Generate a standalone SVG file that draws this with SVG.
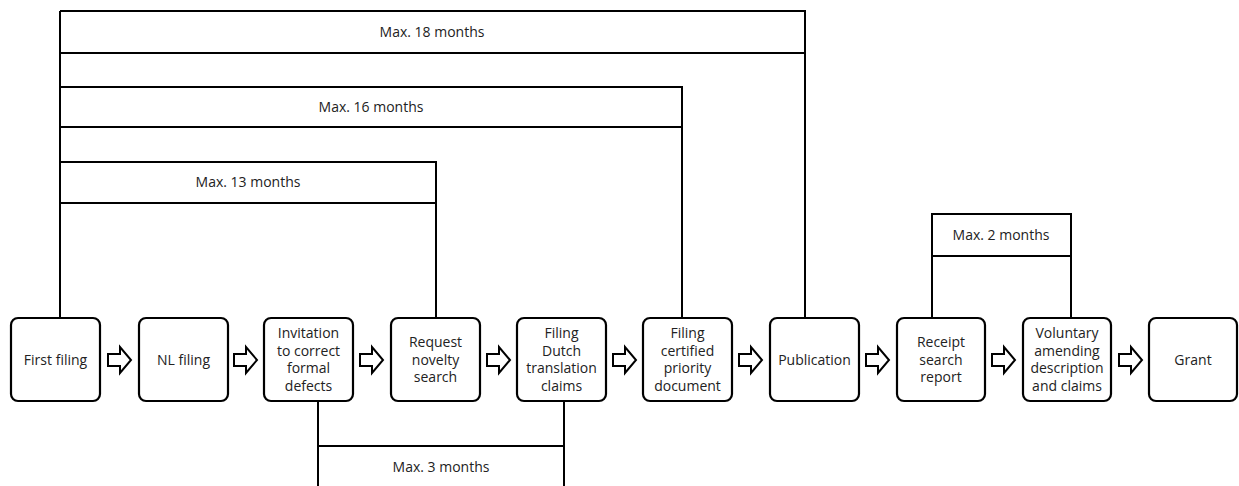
<svg xmlns="http://www.w3.org/2000/svg" width="1239" height="486" viewBox="0 0 1239 486">
<style>
.box{fill:#fff;stroke:#000;stroke-width:2.2}
.ln{fill:none;stroke:#000;stroke-width:2}
.t{font-family:"Open Sans","Noto Sans",sans-serif;font-size:14px;fill:#222;text-anchor:middle}
.arr{fill:#fff;stroke:#000;stroke-width:2;stroke-linejoin:miter}
</style>
<defs>
<path id="arrow" class="arr" d="M0,-6 H12 V-13 L23,0 L12,13 V6 H0 Z"/>
</defs>
<rect width="1239" height="486" fill="#fff"/>
<g id="connectors">
<path class="ln" d="M60,11 H805 V317 M60,53 H805 M60,11 V317"/>
<path class="ln" d="M60,87 H682 V317 M60,127 H682"/>
<path class="ln" d="M60,162 H436 V317 M60,203 H436"/>
<path class="ln" d="M932,317 V214 H1071 V317 M932,256 H1071"/>
<path class="ln" d="M318,402 V486 M564,402 V486 M318,446 H564"/>
<use href="#arrow" x="108" y="360"/>
<use href="#arrow" x="234" y="360"/>
<use href="#arrow" x="360" y="360"/>
<use href="#arrow" x="487" y="360"/>
<use href="#arrow" x="613" y="360"/>
<use href="#arrow" x="739" y="360"/>
<use href="#arrow" x="866" y="360"/>
<use href="#arrow" x="992" y="360"/>
<use href="#arrow" x="1119" y="360"/>
</g>
<g id="labels">
<text class="t" x="432" y="37">Max. 18 months</text>
<text class="t" x="371" y="112">Max. 16 months</text>
<text class="t" x="248" y="187">Max. 13 months</text>
<text class="t" x="1001" y="240">Max. 2 months</text>
<text class="t" x="441" y="472">Max. 3 months</text>
</g>
<g id="n1"><rect class="box" x="11" y="318" width="89" height="83" rx="7"/><text class="t" x="55.5" y="365">First filing</text></g>
<g id="n2"><rect class="box" x="139" y="318" width="89" height="83" rx="7"/><text class="t" x="183.5" y="365">NL filing</text></g>
<g id="n3"><rect class="box" x="264" y="318" width="89" height="83" rx="7"/><text class="t" x="308.5" y="338">Invitation</text><text class="t" x="308.5" y="355.5">to correct</text><text class="t" x="308.5" y="373">formal</text><text class="t" x="308.5" y="390.5">defects</text></g>
<g id="n4"><rect class="box" x="391" y="318" width="89" height="83" rx="7"/><text class="t" x="435.5" y="347">Request</text><text class="t" x="435.5" y="364.5">novelty</text><text class="t" x="435.5" y="382">search</text></g>
<g id="n5"><rect class="box" x="517" y="318" width="89" height="83" rx="7"/><text class="t" x="561.5" y="338">Filing</text><text class="t" x="561.5" y="355.5">Dutch</text><text class="t" x="561.5" y="373">translation</text><text class="t" x="561.5" y="390.5">claims</text></g>
<g id="n6"><rect class="box" x="643" y="318" width="89" height="83" rx="7"/><text class="t" x="687.5" y="338">Filing</text><text class="t" x="687.5" y="355.5">certified</text><text class="t" x="687.5" y="373">priority</text><text class="t" x="687.5" y="390.5">document</text></g>
<g id="n7"><rect class="box" x="770" y="318" width="89" height="83" rx="7"/><text class="t" x="814.5" y="365">Publication</text></g>
<g id="n8"><rect class="box" x="897" y="318" width="88" height="83" rx="7"/><text class="t" x="941" y="347">Receipt</text><text class="t" x="941" y="364.5">search</text><text class="t" x="941" y="382">report</text></g>
<g id="n9"><rect class="box" x="1023" y="318" width="88" height="83" rx="7"/><text class="t" x="1067" y="338">Voluntary</text><text class="t" x="1067" y="355.5">amending</text><text class="t" x="1067" y="373">description</text><text class="t" x="1067" y="390.5">and claims</text></g>
<g id="n10"><rect class="box" x="1149" y="318" width="88" height="83" rx="7"/><text class="t" x="1193" y="365">Grant</text></g>
</svg>
